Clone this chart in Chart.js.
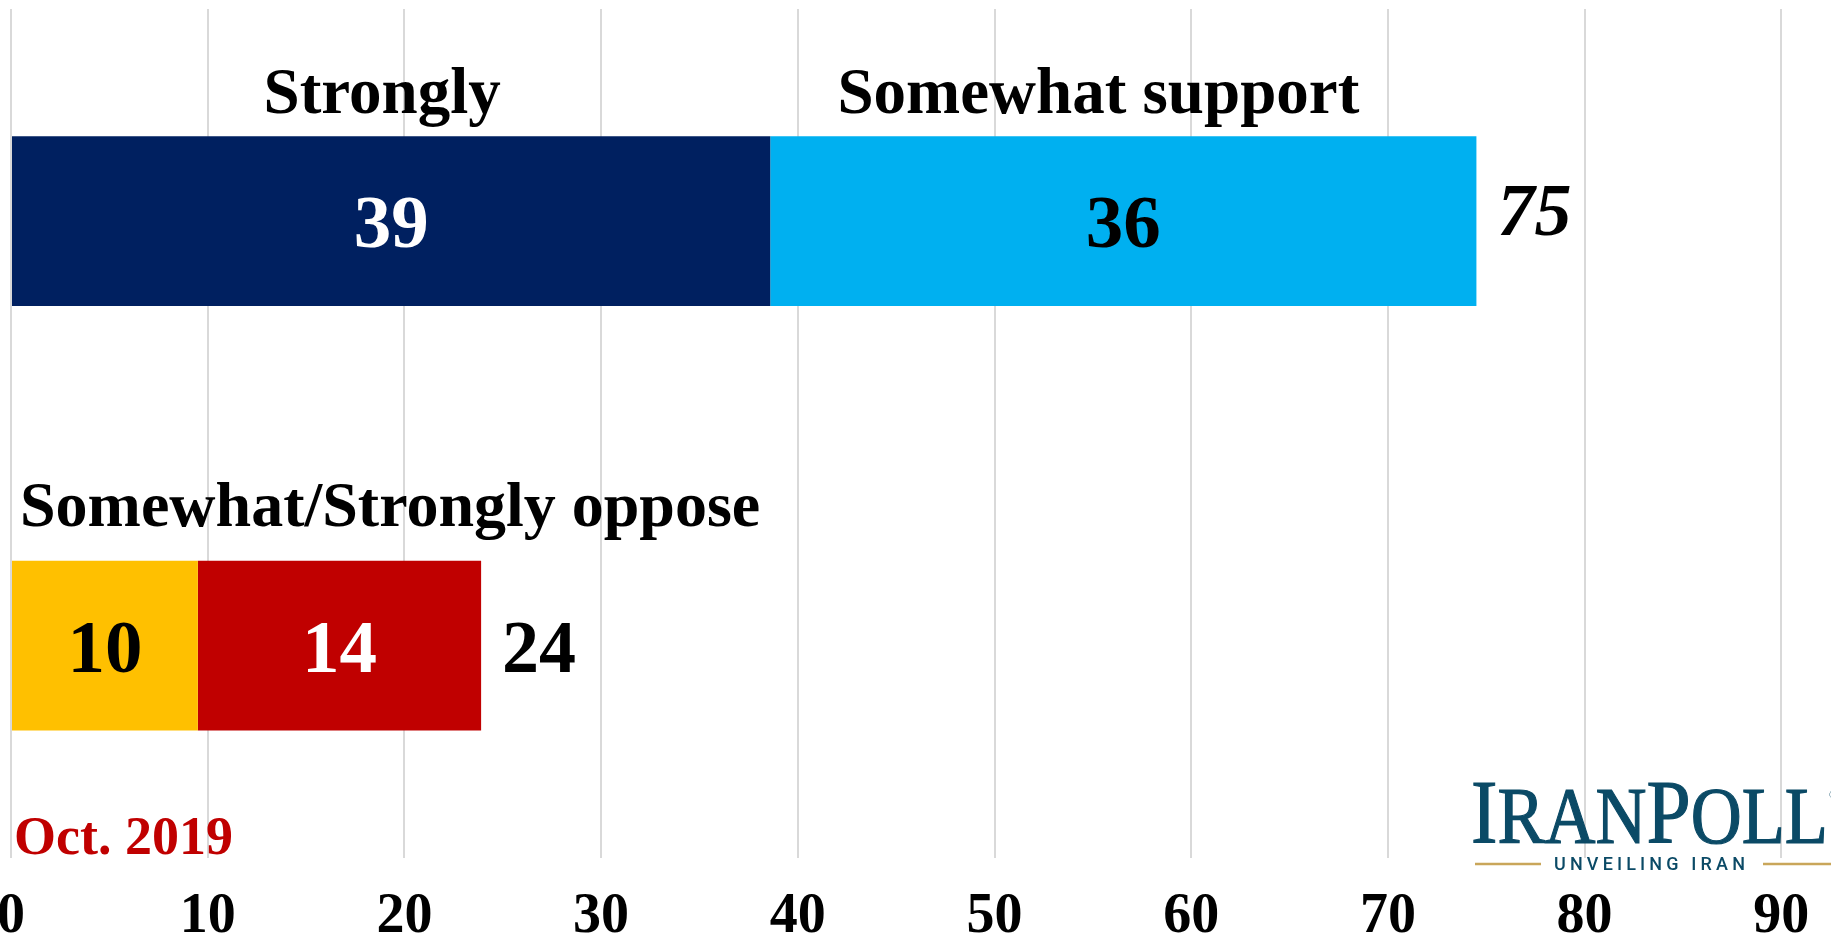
<!DOCTYPE html>
<html>
<head>
<meta charset="utf-8">
<style>
  html, body { margin: 0; padding: 0; background: #fff; overflow: hidden; width: 1831px; height: 940px; }
  #chart { position: absolute; left: -69px; top: 0; }
</style>
<script src="https://cdn.jsdelivr.net/npm/chart.js@4"></script>
</head>
<body>
<canvas id="chart" width="2147" height="977"></canvas>
<script>
// Data
const categories = ['Support', 'Oppose'];
const firstSegment = [38.6, 9.5];    // strongly support / somewhat oppose
const secondSegment = [35.9, 14.4];  // somewhat support / strongly oppose
const headers = ['Strongly', 'Somewhat support', 'Somewhat/Strongly oppose'];
const axisMin = 0;
const axisMax = 100;
const axisStep = 10;
const dateNote = 'Oct. 2019';

const SERIF = "'Liberation Serif', 'Times New Roman', serif";
const NAVY = '#002060';
const SKY = '#00B0F0';
const GOLD = '#FFC000';
const RED = '#C00000';
const SHIFT = 69; // canvas is pushed left so the axis starts near the page edge

// text colour for each segment label, per dataset / category
const segmentTextColors = [['#ffffff', '#000000'], ['#000000', '#ffffff']];

function drawText(ctx, text, x, y, font, color, align) {
    ctx.font = font;
    ctx.fillStyle = color;
    ctx.textAlign = align || 'left';
    ctx.textBaseline = 'alphabetic';
    ctx.fillText(text, x, y);
}

// IranPoll wordmark: small caps, squeezed to fit its width
function drawLogo(ctx, x, baseline, width, color) {
    const letters = [['I', 90], ['R', 80], ['A', 80], ['N', 80], ['P', 90], ['O', 80], ['L', 80], ['L', 80]];
    let total = 0;
    letters.forEach(([ch, size]) => {
        ctx.font = size + 'px ' + SERIF;
        total += ctx.measureText(ch).width;
    });
    const sx = width / total;
    ctx.save();
    ctx.translate(x, baseline);
    ctx.scale(sx, 1);
    ctx.fillStyle = color;
    ctx.strokeStyle = color;
    ctx.lineWidth = 1.2;
    ctx.textAlign = 'left';
    ctx.textBaseline = 'alphabetic';
    let lx = 0;
    letters.forEach(([ch, size]) => {
        ctx.font = size + 'px ' + SERIF;
        ctx.fillText(ch, lx, 0);
        ctx.strokeText(ch, lx, 0);
        lx += ctx.measureText(ch).width;
    });
    ctx.restore();
    drawText(ctx, '\u00AE', x + width + 1, baseline - 44, '12px ' + SERIF, color, 'left');
}

/**
 * Draws segment values, totals, group headers, date and logo
 */
const labelPlugin = {
    id: 'barLabels',
    afterDatasetsDraw(chart) {
        const ctx = chart.ctx;
        const m0 = chart.getDatasetMeta(0);
        const m1 = chart.getDatasetMeta(1);
        ctx.save();

        // values inside each segment
        [m0, m1].forEach((meta, d) => {
            meta.data.forEach((bar, i) => {
                const v = chart.data.datasets[d].data[i];
                drawText(ctx, String(Math.round(v)), (bar.x + bar.base) / 2, bar.y + 26,
                    'bold 75px ' + SERIF, segmentTextColors[d][i], 'center');
            });
        });

        // totals to the right of each bar
        m1.data.forEach((bar, i) => {
            const total = firstSegment[i] + secondSegment[i];
            const italic = i === 0 ? 'italic ' : '';
            const dy = i === 0 ? 14 : 26;
            drawText(ctx, String(Math.round(total)), bar.x + 21, bar.y + dy,
                italic + 'bold 74px ' + SERIF, '#000', 'left');
        });

        // group headers
        const b0 = m0.data[0], b1 = m1.data[0], b2 = m0.data[1];
        const top0 = b0.y - b0.height / 2;
        const top1 = b2.y - b2.height / 2;
        drawText(ctx, headers[0], (b0.x + b0.base) / 2 - 9, top0 - 23, 'bold 65px ' + SERIF, '#000', 'center');
        drawText(ctx, headers[1], (b1.x + b1.base) / 2 - 25, top0 - 23, 'bold 65px ' + SERIF, '#000', 'center');
        drawText(ctx, headers[2], b2.base + 8, top1 - 35, 'bold 64px ' + SERIF, '#000', 'left');

        // date note
        const area = chart.chartArea;
        drawText(ctx, dateNote, area.left + 3, area.bottom - 4, 'bold 54px ' + SERIF, RED, 'left');

        // IranPoll logo
        const logoColor = '#0B4A66';
        drawLogo(ctx, 1471 + SHIFT, 843, 357, logoColor);

        const tag = 'UNVEILING IRAN';
        ctx.font = '500 18px Roboto, sans-serif';
        const plain = ctx.measureText(tag).width;
        ctx.letterSpacing = ((191 - plain) / (tag.length - 1)).toFixed(2) + 'px';
        drawText(ctx, tag, 1554 + SHIFT, 870, '500 18px Roboto, sans-serif', logoColor, 'left');
        ctx.letterSpacing = '0px';

        ctx.strokeStyle = '#C9A65A';
        ctx.lineWidth = 2.5;
        ctx.beginPath();
        ctx.moveTo(1475 + SHIFT, 864); ctx.lineTo(1541 + SHIFT, 864);
        ctx.moveTo(1763 + SHIFT, 864); ctx.lineTo(1831 + SHIFT, 864);
        ctx.stroke();

        ctx.restore();
    }
};

const ctx = document.getElementById('chart').getContext('2d');

new Chart(ctx, {
    type: 'bar',
    data: {
        labels: categories,
        datasets: [{
            data: firstSegment,
            backgroundColor: [NAVY, GOLD],
            borderWidth: 0,
            barPercentage: 0.4,
            categoryPercentage: 1.0
        }, {
            data: secondSegment,
            backgroundColor: [SKY, RED],
            borderWidth: 0,
            barPercentage: 0.4,
            categoryPercentage: 1.0
        }]
    },
    options: {
        indexAxis: 'y',
        responsive: false,
        animation: false,
        layout: {
            padding: { left: 80, right: 100, top: 9, bottom: 0 }
        },
        plugins: {
            legend: { display: false },
            tooltip: { enabled: false }
        },
        scales: {
            x: {
                stacked: true,
                min: axisMin,
                max: axisMax,
                ticks: {
                    stepSize: axisStep,
                    color: '#000',
                    padding: 26,
                    maxRotation: 0,
                    font: { family: SERIF, size: 56, weight: 'bold' }
                },
                grid: { color: '#d9d9d9', lineWidth: 2, drawTicks: false },
                border: { display: false }
            },
            y: {
                stacked: true,
                display: false
            }
        }
    },
    plugins: [labelPlugin]
});
</script>
</body>
</html>
